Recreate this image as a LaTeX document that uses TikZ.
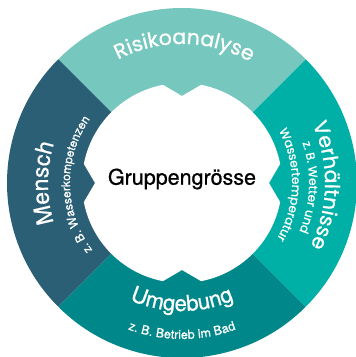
\documentclass[tikz,border=0pt]{standalone}
\usepackage{fontspec}
\setmainfont{TeX Gyre Heros}
\newfontfamily\pop[FakeBold=0.9]{Poppins}
\newfontfamily\hel[FakeBold=0.7]{TeX Gyre Heros}
\newfontfamily\hels[FakeBold=0.3]{TeX Gyre Heros}
\usetikzlibrary{decorations.text}
\definecolor{cTop}{HTML}{76C8BE}
\definecolor{cRight}{HTML}{00B0A6}
\definecolor{cBot}{HTML}{00878A}
\definecolor{cLeft}{HTML}{2A5F75}
\tikzset{
  arctext/.style={decorate, decoration={text along path, text align=center, text={#1}}}
}
\begin{document}
\begin{tikzpicture}[x=1pt,y=1pt]
\useasboundingbox (0,0) rectangle (356,357);
\begin{scope}[shift={(182,174)}]
  \fill[cTop]   (0,0) -- (45:175) arc[start angle=45,end angle=135,radius=175] -- cycle;
  \fill[cLeft]  (0,0) -- (135:175) arc[start angle=135,end angle=225,radius=175] -- cycle;
  \fill[cBot]   (0,0) -- (225:175) arc[start angle=225,end angle=315,radius=175] -- cycle;
  \fill[cRight] (0,0) -- (315:175) arc[start angle=315,end angle=405,radius=175] -- cycle;
  \fill[white] (11:100) arc[start angle=11,end angle=79,radius=100] -- (90:87)
     -- (101:100) arc[start angle=101,end angle=169,radius=100] -- (180:87)
     -- (191:100) arc[start angle=191,end angle=259,radius=100] -- (270:87)
     -- (281:100) arc[start angle=281,end angle=349,radius=100] -- (0:87) -- cycle;
  \node (center) at (0,4) {\hel\fontsize{21.5}{24}\selectfont Gruppengrösse};
  % top
  \path[arctext={|\pop\fontsize{20.5}{24}\selectfont\color{white}|Risikoanalyse}]
     (150:139) arc[start angle=150,end angle=28,radius=139];
  % right
  \path[arctext={|\pop\fontsize{20.5}{24}\selectfont\color{white}|Verhältnisse}]
     (42:143) arc[start angle=42,end angle=-44,radius=143];
  \path[arctext={|\pop\fontsize{12}{14}\selectfont\color{white}|z. B. Wetter und}]
     (42:127) arc[start angle=42,end angle=-46,radius=127];
  \path[arctext={|\pop\fontsize{12}{14}\selectfont\color{white}|Wassertemperatur}]
     (42:110) arc[start angle=42,end angle=-44,radius=110];
  % bottom
  \path[arctext={|\hel\fontsize{22}{24}\selectfont\color{white}|Umgebung}]
     (220:128) arc[start angle=220,end angle=320,radius=128];
  \path[arctext={|\hels\fontsize{12.5}{14}\selectfont\color{white}|z. B. Betrieb im Bad}]
     (220:156) arc[start angle=220,end angle=320,radius=156];
  % left
  \path[arctext={|\hel\fontsize{23}{26}\selectfont\color{white}|Mensch}]
     (225:134) arc[start angle=225,end angle=135,radius=134];
  \path[arctext={|\hels\fontsize{12}{14}\selectfont\color{white}|z. B. Wasserkompetenzen}]
     (228:112) arc[start angle=228,end angle=134,radius=112];
\end{scope}
\end{tikzpicture}
\end{document}
